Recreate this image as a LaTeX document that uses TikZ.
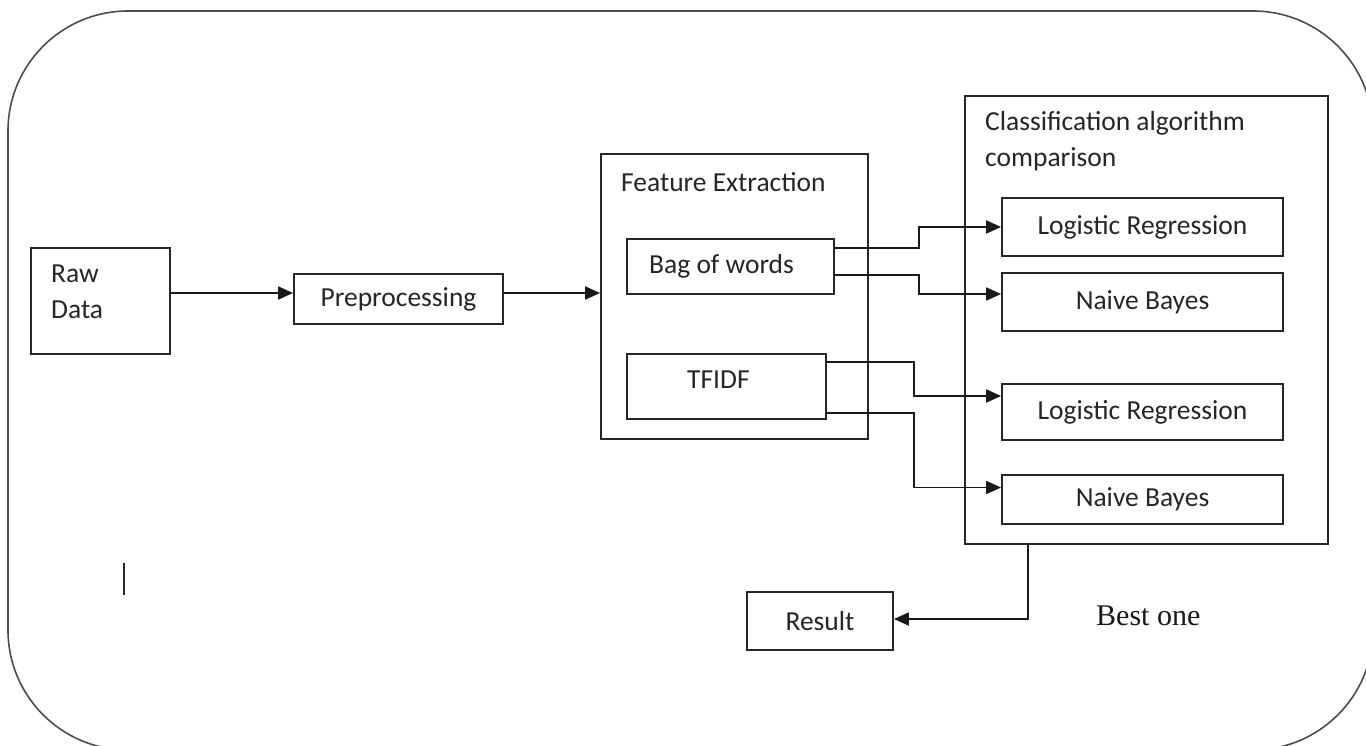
\documentclass[tikz,border=0pt]{standalone}
\usepackage{fontspec}
\setmainfont{Carlito}
\newfontfamily\timesfont{Liberation Serif}
\usetikzlibrary{arrows.meta}
\begin{document}
\begin{tikzpicture}[x=1pt,y=-1pt,
  box/.style={draw=black!85, line width=1.8pt, inner sep=0pt, text=black!85, font=\fontsize{27.5}{36}\selectfont},
  lbl/.style={inner sep=0pt, text=black!85, font=\fontsize{27.5}{36}\selectfont, align=left},
  conn/.style={line width=1.8pt, draw=black!90},
  arr/.style={conn, -{Triangle[length=15pt,width=13pt]}}
]
\useasboundingbox (0,0) rectangle (1366,746);
\fill[white] (0,0) rectangle (1366,746);
\draw[line width=1.6pt, draw=black!70, rounded corners=120pt] (8,11) rectangle (1373,750);

% boxes
\node[box, minimum width=139pt, minimum height=106pt] (raw) at (100.5,301) {};
\node[lbl, anchor=base west] (rawt) at (51,319) {Raw\\Data};
\node[box, minimum width=209pt, minimum height=50pt] (prep) at (398.5,299) {Preprocessing};

\node[box, minimum width=267pt, minimum height=285pt] (feat) at (734.5,296.5) {};
\node[lbl, anchor=base west] (featt) at (621,192) {Feature Extraction};
\node[box, minimum width=207pt, minimum height=55pt] (bow) at (730.5,266.5) {};
\node[lbl, anchor=base west] (bowt) at (649,273) {Bag of words};
\node[box, minimum width=199pt, minimum height=65pt] (tfidf) at (726.5,386.5) {};
\node[lbl, anchor=base west] (tfidft) at (687,388) {TFIDF};

\node[box, minimum width=363pt, minimum height=448pt] (cls) at (1146.5,320) {};
\node[lbl, anchor=base west] (clst) at (985,167) {Classification algorithm\\comparison};
\node[box, minimum width=281pt, minimum height=58pt] (lr1) at (1142.5,227) {Logistic Regression};
\node[box, minimum width=281pt, minimum height=58pt] (nb1) at (1142.5,302) {Naive Bayes};
\node[box, minimum width=281pt, minimum height=56pt] (lr2) at (1142.5,412) {Logistic Regression};
\node[box, minimum width=281pt, minimum height=49pt] (nb2) at (1142.5,499.5) {Naive Bayes};

\node[box, minimum width=146pt, minimum height=58pt] (result) at (820,621) {Result};
\node[inner sep=0pt, anchor=base west, text=black!90, font=\timesfont\fontsize{30}{36}\selectfont] (best) at (1096,625) {Best one};

% text cursor mark
\draw[line width=1.6pt, black!85] (124,563) -- (124,595);

% connectors
\draw[arr] ([yshift=8pt]raw.east) -- ([yshift=6pt]prep.west);
\draw[arr] ([yshift=6pt]prep.east) -- ([yshift=3.5pt]feat.west);
\draw[arr] ([yshift=18.5pt]bow.east) -- ++(84,0) |- (lr1.west);
\draw[arr] ([yshift=-8.5pt]bow.east) -- ++(84,0) |- ([yshift=8pt]nb1.west);
\draw[arr] ([yshift=24.5pt]tfidf.east) -- ++(87,0) |- ([yshift=16pt]lr2.west);
\draw[arr] ([yshift=-26.5pt]tfidf.east) -- ++(87,0) |- ([yshift=12pt]nb2.west);
\draw[arr] ([xshift=-118.5pt]cls.south) |- ([yshift=2pt]result.east);
\end{tikzpicture}
\end{document}
